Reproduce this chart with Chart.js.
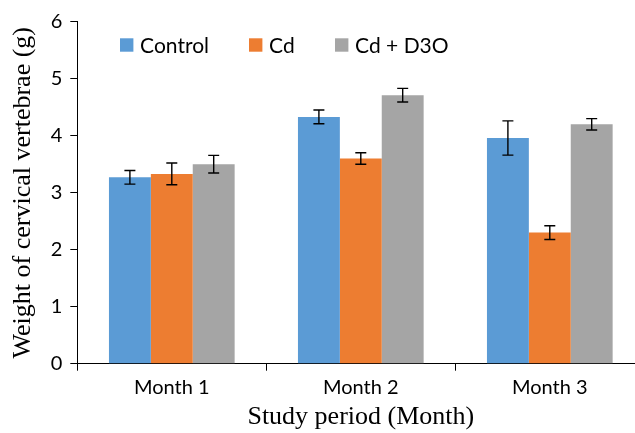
<!DOCTYPE html>
<html><head><meta charset="utf-8">
<script src="https://cdn.jsdelivr.net/npm/chart.js@4"></script>
<style>
html,body{margin:0;padding:0;overflow:hidden;background:#fff;width:635px;height:433px}
#wrap{position:absolute;left:0;top:0;width:647px;height:433px}
</style>
</head><body><div id="wrap"><canvas id="c"></canvas></div>
<script>
const categories = ['Month 1', 'Month 2', 'Month 3'];
const seriesNames = ['Control', 'Cd', 'Cd + D3O'];
const controlValues = [3.27, 4.33, 3.96];
const cdValues = [3.33, 3.60, 2.30];
const cdD3oValues = [3.50, 4.71, 4.20];
const controlErrors = [0.12, 0.12, 0.30];
const cdErrors = [0.19, 0.10, 0.12];
const cdD3oErrors = [0.155, 0.12, 0.10];
const yTickValues = [0, 1, 2, 3, 4, 5, 6];
const xAxisTitle = 'Study period (Month)';
const yAxisTitle = 'Weight of cervical vertebrae (g)';

const colors = ['#5B9BD5', '#ED7D31', '#A5A5A5'];
const sansFont = 'Lato, "Open Sans", sans-serif';
const serifFont = '"Liberation Serif", "DejaVu Serif", serif';

const errorBarPlugin = {
  id: 'errorBars',
  afterDatasetsDraw(chart) {
    const ctx = chart.ctx, y = chart.scales.y;
    chart.data.datasets.forEach((ds, i) => {
      const meta = chart.getDatasetMeta(i);
      meta.data.forEach((bar, j) => {
        const v = ds.data[j], e = ds.errors[j];
        const yTop = y.getPixelForValue(v + e), yBot = y.getPixelForValue(v - e);
        ctx.save();
        ctx.strokeStyle = '#000';
        ctx.lineWidth = 1.4;
        ctx.beginPath();
        ctx.moveTo(bar.x, yTop); ctx.lineTo(bar.x, yBot);
        ctx.moveTo(bar.x - 5.5, yTop); ctx.lineTo(bar.x + 5.5, yTop);
        ctx.moveTo(bar.x - 5.5, yBot); ctx.lineTo(bar.x + 5.5, yBot);
        ctx.stroke();
        ctx.restore();
      });
    });
  }
};

const legendPlugin = {
  id: 'insideLegend',
  afterDraw(chart, args, opts) {
    const ctx = chart.ctx;
    ctx.save();
    ctx.font = opts.font;
    ctx.textBaseline = 'middle';
    ctx.textAlign = 'left';
    chart.data.datasets.forEach((ds, i) => {
      const x = opts.itemX[i];
      ctx.fillStyle = ds.backgroundColor;
      ctx.fillRect(x, opts.boxTop, opts.boxSize, opts.boxSize);
      ctx.fillStyle = '#000';
      ctx.fillText(ds.label, x + opts.boxSize + opts.gap, opts.boxTop + opts.boxSize / 2 + 1);
    });
    ctx.restore();
  }
};

const values = [controlValues, cdValues, cdD3oValues];
const errors = [controlErrors, cdErrors, cdD3oErrors];

new Chart(document.getElementById('c'), {
  type: 'bar',
  data: {
    labels: categories,
    datasets: seriesNames.map((name, i) => ({
      label: name,
      data: values[i],
      errors: errors[i],
      backgroundColor: colors[i],
      borderWidth: 0,
      categoryPercentage: 0.665,
      barPercentage: 1.0
    }))
  },
  options: {
    responsive: true,
    maintainAspectRatio: false,
    animation: false,
    layout: { padding: { left: 0, right: 2.7, top: 21.7, bottom: 0 } },
    plugins: {
      legend: { display: false },
      tooltip: { enabled: false },
      insideLegend: {
        font: '21px ' + sansFont,
        itemX: [120, 249, 335],
        boxTop: 38.3,
        boxSize: 13.4,
        gap: 6.7
      }
    },
    scales: {
      x: {
        grid: { display: true, drawOnChartArea: false, drawTicks: true, tickLength: 7, color: '#000', offset: true },
        border: { display: true, color: '#000', width: 1 },
        ticks: { color: '#000', font: { family: sansFont, size: 20 }, padding: 5 },
        title: { display: true, text: xAxisTitle, color: '#000', font: { family: serifFont, size: 26 }, padding: { top: 0, bottom: 0 } },
        afterFit(scale) { scale.height = 69.3; }
      },
      y: {
        min: 0, max: 6,
        afterBuildTicks(scale) { scale.ticks = yTickValues.map(v => ({ value: v })); },
        grid: { display: true, drawOnChartArea: false, drawTicks: true, tickLength: 7, color: '#000' },
        border: { display: true, color: '#000', width: 1 },
        ticks: { color: '#000', font: { family: sansFont, size: 20 }, padding: 8 },
        title: { display: true, text: yAxisTitle, color: '#000', font: { family: serifFont, size: 26 }, padding: { top: 8, bottom: 0 } },
        afterFit(scale) { scale.width = 77.3; }
      }
    }
  },
  plugins: [errorBarPlugin, legendPlugin]
});
</script>
</body></html>
